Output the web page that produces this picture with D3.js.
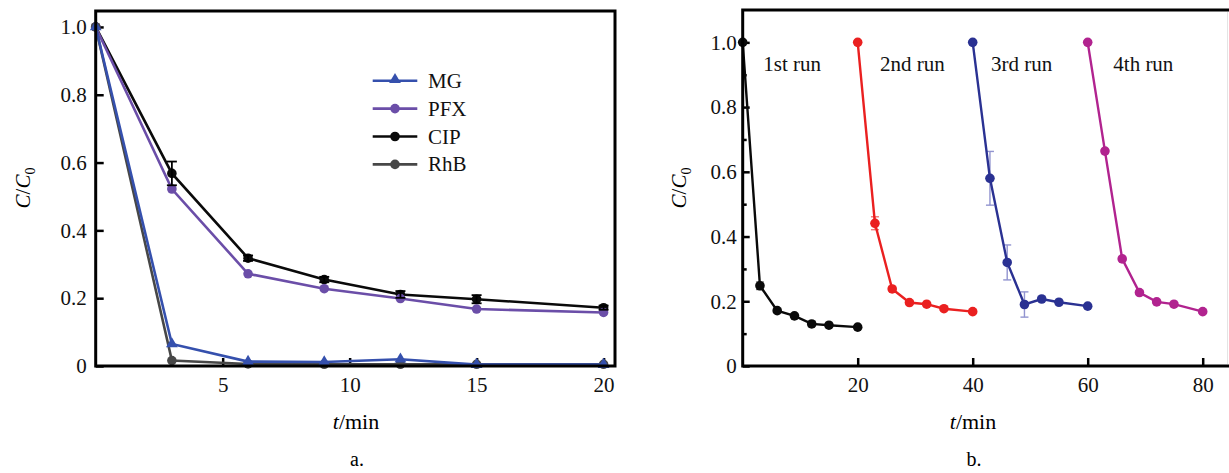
<!DOCTYPE html>
<html>
<head>
<meta charset="utf-8">
<script src="https://cdn.jsdelivr.net/npm/d3@7"></script>
<style>
  body { margin: 0; background: #fff; }
  svg, svg text { font-family: "Liberation Serif", "Tinos", "Times New Roman", "DejaVu Serif", serif; }
</style>
</head>
<body>
<script>
// panel a: degradation of four pollutants
const timeA = [0, 3, 6, 9, 12, 15, 20];
const mgA = [1.0, 0.065, 0.013, 0.012, 0.02, 0.004, 0.004];
const pfxA = [1.0, 0.522, 0.272, 0.228, 0.199, 0.168, 0.158];
const cipA = [1.0, 0.568, 0.318, 0.255, 0.211, 0.197, 0.172];
const rhbA = [1.0, 0.016, 0.006, 0.005, 0.005, 0.005, 0.005];
const cipErrA = [0, 0.035, 0.008, 0.008, 0.01, 0.012, 0.006];
const seriesNamesA = ["MG", "PFX", "CIP", "RhB"];
const xTicksA = [5, 10, 15, 20];
const yTicks = [0, 0.2, 0.4, 0.6, 0.8, 1.0];

// panel b: four reuse runs
const runLabels = ["1st run", "2nd run", "3rd run", "4th run"];
const runTimes = [
  [0, 3, 6, 9, 12, 15, 20],
  [20, 23, 26, 29, 32, 35, 40],
  [40, 43, 46, 49, 52, 55, 60],
  [60, 63, 66, 69, 72, 75, 80]
];
const runValues = [
  [1.0, 0.248, 0.171, 0.155, 0.13, 0.126, 0.12],
  [1.0, 0.441, 0.238, 0.196, 0.191, 0.177, 0.168],
  [1.0, 0.58, 0.32, 0.19, 0.207, 0.197, 0.185],
  [1.0, 0.664, 0.331, 0.227, 0.198, 0.191, 0.168]
];
const runErr = [
  [0, 0.012, 0.006, 0.006, 0.008, 0.006, 0.004],
  [0, 0.02, 0.006, 0.006, 0.005, 0.005, 0.004],
  [0, 0.083, 0.054, 0.039, 0.006, 0.005, 0.004],
  [0, 0.006, 0.006, 0.006, 0.005, 0.005, 0.004]
];
const xTicksB = [20, 40, 60, 80];
const yMinorB = [0.1, 0.3, 0.5, 0.7, 0.9];

const colorsA = ["#3550ad", "#6b4ea8", "#0a0a0a", "#474747"];
const colorsB = ["#0a0a0a", "#ea2020", "#2a3192", "#b1238f"];
const errColorsB = ["#555", "#ea2020", "#7f82c8", "#b1238f"];

const FONT = "Liberation Serif, Tinos, Times New Roman, DejaVu Serif, serif";
const W = 1229, H = 473;
const svg = d3.select("body").append("svg").attr("width", W).attr("height", H)
  .attr("font-family", FONT);

const fmtY = (d) => (d === 0 ? "0" : d.toFixed(1));

function yLabel(g, x, y) {
  const t = g.append("text")
    .attr("transform", `translate(${x},${y}) rotate(-90)`)
    .attr("text-anchor", "middle")
    .attr("font-family", FONT)
    .attr("font-size", 21);
  t.append("tspan").attr("font-style", "italic").text("C");
  t.append("tspan").text("/");
  t.append("tspan").attr("font-style", "italic").text("C");
  t.append("tspan").attr("font-size", 14).attr("dy", 5).text("0");
}

function xLabel(g, x, y, letter) {
  const t = g.append("text")
    .attr("x", x).attr("y", y)
    .attr("text-anchor", "middle")
    .attr("font-family", FONT)
    .attr("font-size", 22);
  t.append("tspan").attr("font-style", "italic").text("t");
  t.append("tspan").text("/min");
  g.append("text")
    .attr("x", x + 1).attr("y", y + 37)
    .attr("text-anchor", "middle")
    .attr("font-family", FONT)
    .attr("font-size", 20)
    .text(letter);
}

function styleAxis(g) {
  g.attr("font-family", FONT);
  g.select(".domain").remove();
  g.selectAll(".tick line").attr("stroke", "#000").attr("stroke-width", 2.5);
  g.selectAll(".tick text").attr("font-size", 21).attr("fill", "#111");
}

// ---------- panel a ----------
{
  const x = d3.scaleLinear().domain([0, 20.45]).range([95.7, 615]);
  const y = d3.scaleLinear().domain([0, 1.047]).range([366, 11]);
  const g = svg.append("g");

  g.append("g")
    .attr("transform", "translate(0,366)")
    .call(d3.axisBottom(x).tickValues(xTicksA).tickSizeInner(-8).tickSizeOuter(0).tickPadding(11))
    .call(styleAxis);
  g.append("g")
    .attr("transform", "translate(95.7,0)")
    .call(d3.axisLeft(y).tickValues(yTicks).tickFormat(fmtY).tickSizeInner(-8).tickSizeOuter(0).tickPadding(9))
    .call(styleAxis);

  const seriesA = [mgA, pfxA, cipA, rhbA];
  const line = d3.line().x((d, i) => x(timeA[i])).y((d) => y(d));
  // draw in order so RhB and MG sit on top near zero like the original
  const order = [2, 1, 3, 0];
  order.forEach((k) => {
    const vals = seriesA[k];
    g.append("path").attr("d", line(vals))
      .attr("fill", "none").attr("stroke", colorsA[k]).attr("stroke-width", 2.6);
    if (k === 0) {
      g.selectAll(null).data(vals).join("path")
        .attr("transform", (d, i) => `translate(${x(timeA[i])},${y(d)})`)
        .attr("d", d3.symbol(d3.symbolTriangle, 60))
        .attr("fill", colorsA[k]);
    } else {
      g.selectAll(null).data(vals).join("circle")
        .attr("cx", (d, i) => x(timeA[i])).attr("cy", (d) => y(d))
        .attr("r", 4.8).attr("fill", colorsA[k]);
    }
  });

  // CIP error bars
  const eb = g.append("g").attr("stroke", "#000").attr("stroke-width", 1.8);
  cipA.forEach((v, i) => {
    const e = cipErrA[i];
    if (!e) return;
    const cx = x(timeA[i]);
    eb.append("line").attr("x1", cx).attr("x2", cx).attr("y1", y(v + e)).attr("y2", y(v - e));
    eb.append("line").attr("x1", cx - 5).attr("x2", cx + 5).attr("y1", y(v + e)).attr("y2", y(v + e));
    eb.append("line").attr("x1", cx - 5).attr("x2", cx + 5).attr("y1", y(v - e)).attr("y2", y(v - e));
  });

  // frame
  g.append("rect").attr("x", 95.7).attr("y", 11).attr("width", 615 - 95.7).attr("height", 355)
    .attr("fill", "none").attr("stroke", "#000").attr("stroke-width", 3);

  // legend
  const lg = g.append("g");
  seriesNamesA.forEach((name, k) => {
    const ly = 80.7 + k * 27.9;
    lg.append("line").attr("x1", 372.7).attr("x2", 417.3).attr("y1", ly).attr("y2", ly)
      .attr("stroke", colorsA[k]).attr("stroke-width", 2.6);
    if (k === 0) {
      lg.append("path").attr("transform", `translate(395,${ly - 1})`)
        .attr("d", d3.symbol(d3.symbolTriangle, 60)).attr("fill", colorsA[k]);
    } else {
      lg.append("circle").attr("cx", 395).attr("cy", ly).attr("r", 4.8).attr("fill", colorsA[k]);
    }
    lg.append("text").attr("x", 428).attr("y", ly + 7).attr("font-family", FONT)
      .attr("font-size", 21).attr("fill", "#111").text(name);
  });

  yLabel(g, 30, 188);
  xLabel(g, 356, 429, "a.");
}

// ---------- panel b ----------
{
  const x = d3.scaleLinear().domain([0, 85]).range([742.7, 742.7 + 85 * 5.75]);
  const y = d3.scaleLinear().domain([0, 1.1]).range([366, 10]);
  const g = svg.append("g");

  g.append("g")
    .attr("transform", "translate(0,366)")
    .call(d3.axisBottom(x).tickValues(xTicksB).tickSizeInner(-8).tickSizeOuter(0).tickPadding(11))
    .call(styleAxis);
  g.append("g")
    .attr("transform", "translate(742.7,0)")
    .call(d3.axisLeft(y).tickValues(yTicks).tickFormat(fmtY).tickSizeInner(-7).tickSizeOuter(0).tickPadding(6))
    .call(styleAxis);
  g.append("g")
    .attr("transform", "translate(742.7,0)")
    .call(d3.axisLeft(y).tickValues(yMinorB).tickFormat("").tickSizeInner(-4).tickSizeOuter(0))
    .call(styleAxis);

  const line = d3.line().x((d) => x(d[0])).y((d) => y(d[1]));
  runValues.forEach((vals, r) => {
    const pts = vals.map((v, i) => [runTimes[r][i], v]);
    // error bars
    const eb = g.append("g").attr("stroke", errColorsB[r]).attr("stroke-width", r === 2 ? 1.4 : 1.2)
      .attr("opacity", r === 2 ? 0.85 : 0.7);
    pts.forEach((p, i) => {
      const e = runErr[r][i];
      if (!e) return;
      const cx = x(p[0]);
      eb.append("line").attr("x1", cx).attr("x2", cx).attr("y1", y(p[1] + e)).attr("y2", y(p[1] - e));
      eb.append("line").attr("x1", cx - 4).attr("x2", cx + 4).attr("y1", y(p[1] + e)).attr("y2", y(p[1] + e));
      eb.append("line").attr("x1", cx - 4).attr("x2", cx + 4).attr("y1", y(p[1] - e)).attr("y2", y(p[1] - e));
    });
    g.append("path").attr("d", line(pts))
      .attr("fill", "none").attr("stroke", colorsB[r]).attr("stroke-width", 2.4);
    g.selectAll(null).data(pts).join("circle")
      .attr("cx", (d) => x(d[0])).attr("cy", (d) => y(d[1]))
      .attr("r", 4.8).attr("fill", colorsB[r]);
  });

  // run labels
  const labelX = [763.3, 880, 991, 1113.3];
  runLabels.forEach((t, r) => {
    g.append("text").attr("x", labelX[r]).attr("y", 71).attr("font-family", FONT)
      .attr("font-size", 21).attr("fill", "#111").text(t);
  });

  // frame (right side falls past the window edge)
  g.append("rect").attr("x", 742.7).attr("y", 10).attr("width", 85 * 5.75).attr("height", 356)
    .attr("fill", "none").attr("stroke", "#000").attr("stroke-width", 3);
  g.append("line").attr("x1", 1227.5).attr("x2", 1227.5).attr("y1", 12).attr("y2", 364)
    .attr("stroke", "#e4e4e4").attr("stroke-width", 1);

  yLabel(g, 686, 188);
  xLabel(g, 973, 429, "b.");
}
</script>
</body>
</html>
